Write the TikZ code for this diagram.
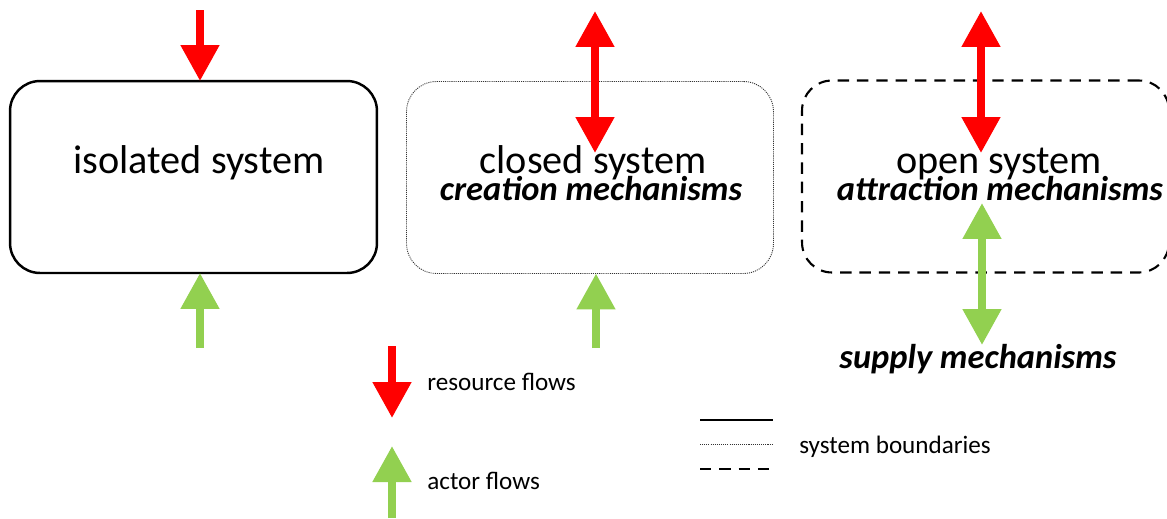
\documentclass[tikz,border=0pt]{standalone}
\usepackage{fontspec}
\setmainfont{Carlito}
\usetikzlibrary{arrows.meta}
\definecolor{fred}{HTML}{FF0000}
\definecolor{fgreen}{HTML}{92D050}
\tikzset{
  sysbox/.style={rounded corners=0.6cm, minimum width=7.34cm, minimum height=3.84cm, inner sep=0pt, outer sep=0pt},
  solidb/.style={draw=black, line width=1.4pt},
  dottedb/.style={draw=black!80, line width=0.5pt, dash pattern=on 0.6pt off 0.6pt},
  dashedb/.style={draw=black, line width=1.2pt, dash pattern=on 6.5pt off 4.5pt},
  tip/.tip={Triangle[width=0.74cm,length=0.72cm]},
  flow/.style={line width=0.16cm},
  redflow/.style={flow, draw=fred, -tip},
  redflow2/.style={flow, draw=fred, tip-tip},
  greenflow/.style={flow, draw=fgreen, -tip},
  greenflow2/.style={flow, draw=fgreen, tip-tip},
  bigtxt/.style={font=\fontsize{22.9}{27}\selectfont, anchor=base, inner sep=0pt},
  mechtxt/.style={font=\fontsize{19.6}{22}\selectfont\bfseries\itshape, anchor=base, inner sep=0pt},
  legtxt/.style={font=\fontsize{14.3}{17}\selectfont, anchor=base west, inner sep=0pt},
}
\begin{document}
\begin{tikzpicture}[x=0.02cm, y=-0.02cm]
\useasboundingbox (0,0) rectangle (1167,518);
% boxes
\node[sysbox, solidb] (iso) at (193.5,177) {};
\node[sysbox, dottedb] (clo) at (590,177.5) {};
\node[sysbox, dashedb] (ope) at (985.5,176.5) {};
% texts
\node[bigtxt] (tiso) at (199,173) {isolated system};
\node[bigtxt] (tclo) at (593,173) {closed system};
\node[mechtxt] (mclo) at (591,200) {creation mechanisms};
\node[bigtxt] (tope) at (999,173) {open system};
\node[mechtxt] (mope) at (1000,200) {attraction mechanisms};
\node[mechtxt] (msup) at (978,368) {supply mechanisms};
% arrow coordinates
\coordinate (r1a) at (200,10);
\coordinate (g1a) at (200,348);
\coordinate (r2a) at (595,11);
\coordinate (r2b) at (595,153);
\coordinate (g2a) at (596,348);
\coordinate (r3a) at (981,11);
\coordinate (r3b) at (981,153);
\coordinate (g3a) at (982,203);
\coordinate (g3b) at (982,345);
% arrows
\draw[redflow] (r1a) -- (r1a |- iso.north);
\draw[greenflow] (g1a) -- (g1a |- iso.south);
\draw[redflow2] (r2a) -- (r2b);
\draw[greenflow] (g2a) -- (g2a |- clo.south);
\draw[redflow2] (r3a) -- (r3b);
\draw[greenflow2] (g3a) -- (g3b);
% legend
\coordinate (lr1) at (392,346);
\coordinate (lr2) at (392,418);
\coordinate (lg1) at (392,518);
\coordinate (lg2) at (392,446);
\draw[redflow] (lr1) -- (lr2);
\draw[greenflow] (lg1) -- (lg2);
\node[legtxt] (lres) at (427,390) {resource flows};
\node[legtxt] (lact) at (427,489) {actor flows};
\coordinate (l1a) at (700,420);
\coordinate (l1b) at (773,420);
\coordinate (l2a) at (700,444);
\coordinate (l2b) at (773,444);
\coordinate (l3a) at (700,469);
\coordinate (l3b) at (773,469);
\draw[solidb] (l1a) -- (l1b);
\draw[dottedb] (l2a) -- (l2b);
\draw[dashedb] (l3a) -- (l3b);
\node[legtxt] (lsys) at (799,453) {system boundaries};
\end{tikzpicture}
\end{document}
